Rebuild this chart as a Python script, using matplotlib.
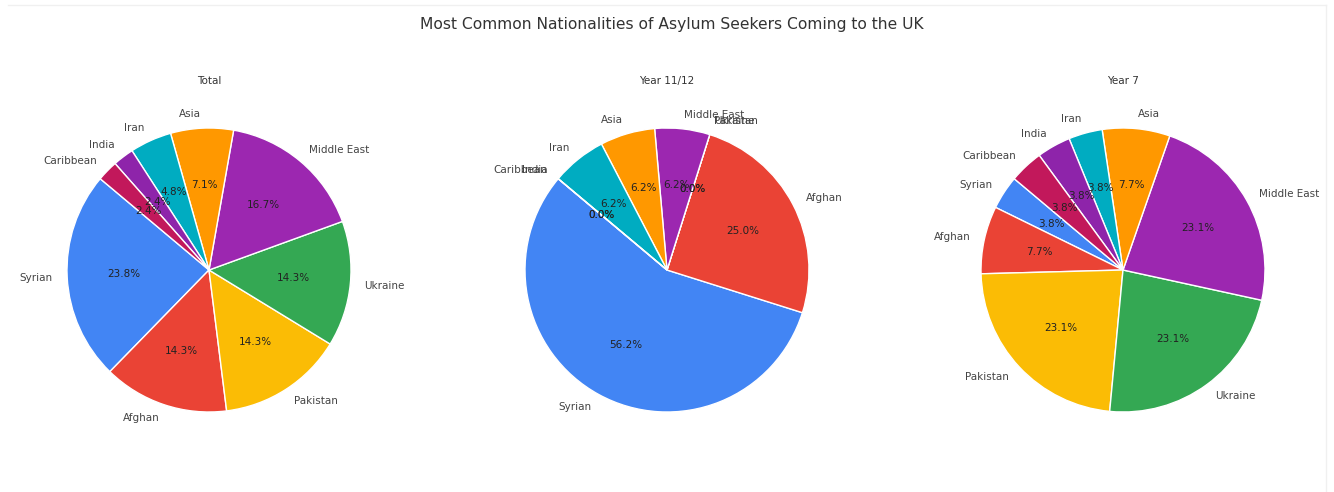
import matplotlib
matplotlib.use("Agg")
import matplotlib.pyplot as plt
from matplotlib.lines import Line2D

# nationalities, in wedge order
nationalities = ['Syrian', 'Afghan', 'Pakistan', 'Ukraine', 'Middle East',
                 'Asia', 'Iran', 'India', 'Caribbean']

# head counts per group
total = [10, 6, 6, 6, 7, 3, 2, 1, 1]
year_11_12 = [9, 4, 0, 0, 1, 1, 1, 0, 0]
year_7 = [1, 2, 6, 6, 6, 2, 1, 1, 1]

group_titles = ['Total', 'Year 11/12', 'Year 7']

colours = ['#4285F4', '#EA4335', '#FBBC05', '#34A853', '#9C27B0',
           '#FF9800', '#00ACC1', '#8E24AA', '#C2185B']

W, H = 1334, 492
fig = plt.figure(figsize=(W / 100, H / 100), dpi=100)
fig.patch.set_facecolor('white')

# faint frame round the output cell
fig.add_artist(Line2D([8 / W, 1326 / W], [1 - 5 / H, 1 - 5 / H],
                      transform=fig.transFigure, color='#f0f0f0', lw=1))
fig.add_artist(Line2D([1326 / W, 1326 / W], [0, 1 - 5 / H],
                      transform=fig.transFigure, color='#f0f0f0', lw=1))

fig.text(672 / W, 1 - 24 / H,
         'Most Common Nationalities of Asylum Seekers Coming to the UK',
         fontsize=11.2, color='#333333', ha='center', va='center')

side = 355
centres_x = [209, 667, 1123]
centre_y = 270

for cx, data, name in zip(centres_x, [total, year_11_12, year_7], group_titles):
    ax = fig.add_axes([(cx - side / 2) / W, (H - centre_y - side / 2) / H,
                       side / W, side / H])
    wedges, texts, autotexts = ax.pie(
        data, labels=nationalities, colors=colours, autopct='%1.1f%%',
        startangle=140, wedgeprops={'edgecolor': 'white', 'linewidth': 1},
        textprops={'fontsize': 7.5})
    for t in texts:
        t.set_color('#444444')
    for t in autotexts:
        t.set_color('#222222')
    ax.set_title(name, fontsize=7.5, color='#333333')
    ax.set_aspect('equal')

fig.savefig('out.png', dpi=100, facecolor='white')
